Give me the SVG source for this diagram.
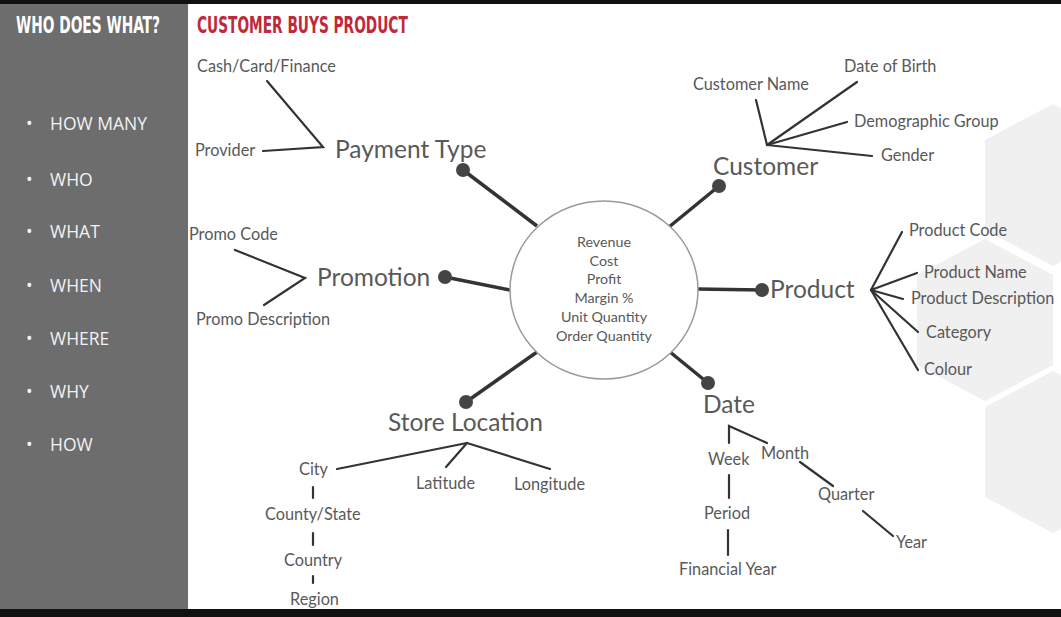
<svg xmlns="http://www.w3.org/2000/svg" width="1061" height="617" viewBox="0 0 1061 617">
<style>
.hex{fill:#f0f0f0}
.t{font-family:Lato,"Open Sans","Liberation Sans",sans-serif;fill:#595959}
.sub{font-size:16.3px}
.dim{font-size:24.5px}
.ctr{font-size:14.3px;text-anchor:middle}
.side{font-family:"Open Sans","Liberation Sans",sans-serif;font-size:17.5px;fill:#f2f2f2}
.head{font-family:"DejaVu Sans Condensed","DejaVu Sans","Liberation Sans",sans-serif;font-weight:bold;font-size:23px}
.ln{stroke:#333;stroke-width:2.2;fill:none;stroke-linecap:round}
.spoke{stroke:#333;stroke-width:3.5;fill:none}
.dot{fill:#444}
</style>
<rect x="0" y="0" width="1061" height="617" fill="#ffffff"/>
<g id="background">
<polygon class="hex" points="1053,104 1121,140 1121,230 1053,266 985,230 985,140"/>
<polygon class="hex" points="985,239 1053,275 1053,365 985,401 917,365 917,275"/>
<polygon class="hex" points="1053,371 1121,407 1121,497 1053,533 985,497 985,407"/>
<rect x="0" y="0" width="188" height="617" fill="#6d6d6d"/>
<rect x="0" y="0" width="1061" height="4" fill="#111"/>
<rect x="0" y="609" width="1061" height="8" fill="#111"/>
</g>
<g id="sidebar">
<text class="head" transform="translate(16,33) scale(0.75,1)" x="0" y="0" fill="#ffffff" textLength="192" lengthAdjust="spacingAndGlyphs">WHO DOES WHAT?</text>
<g class="side">
<text x="26" y="130">•</text><text x="50" y="130">HOW MANY</text>
<text x="26" y="186">•</text><text x="50" y="186">WHO</text>
<text x="26" y="238">•</text><text x="50" y="238">WHAT</text>
<text x="26" y="292">•</text><text x="50" y="292">WHEN</text>
<text x="26" y="345">•</text><text x="50" y="345">WHERE</text>
<text x="26" y="398">•</text><text x="50" y="398">WHY</text>
<text x="26" y="451">•</text><text x="50" y="451">HOW</text>
</g>
</g>
<text id="title" class="head" transform="translate(197,33) scale(0.75,1)" x="0" y="0" fill="#c0283c" textLength="281" lengthAdjust="spacingAndGlyphs">CUSTOMER BUYS PRODUCT</text>
<g id="connectors">
<line class="spoke" x1="463" y1="170" x2="537" y2="226"/>
<line class="spoke" x1="719" y1="186" x2="669" y2="227"/>
<line class="spoke" x1="445" y1="277" x2="510" y2="290"/>
<line class="spoke" x1="697" y1="289" x2="762" y2="290"/>
<line class="spoke" x1="466" y1="402" x2="537" y2="352"/>
<line class="spoke" x1="708" y1="383" x2="670" y2="352"/>
<polyline class="ln" points="267,81 323,147 263,151"/>
<polyline class="ln" points="235,250 305,278 264,305"/>
<line class="ln" x1="767" y1="145" x2="756" y2="100"/>
<line class="ln" x1="767" y1="145" x2="857" y2="82"/>
<line class="ln" x1="767" y1="145" x2="847" y2="122"/>
<line class="ln" x1="767" y1="145" x2="872" y2="156"/>
<line class="ln" x1="871" y1="290" x2="902" y2="232"/>
<line class="ln" x1="871" y1="290" x2="917" y2="273"/>
<line class="ln" x1="871" y1="290" x2="903" y2="299"/>
<line class="ln" x1="871" y1="290" x2="918" y2="332"/>
<line class="ln" x1="871" y1="290" x2="918" y2="370"/>
<line class="ln" x1="467" y1="443" x2="337" y2="469"/>
<line class="ln" x1="467" y1="443" x2="446" y2="467"/>
<line class="ln" x1="467" y1="443" x2="550" y2="469"/>
<line class="ln" x1="313" y1="487" x2="313" y2="498"/>
<line class="ln" x1="313" y1="533" x2="313" y2="545"/>
<line class="ln" x1="313" y1="576" x2="313" y2="583"/>
<polyline class="ln" points="729,443 729,426 767,443"/>
<line class="ln" x1="800" y1="462" x2="833" y2="486"/>
<line class="ln" x1="863" y1="511" x2="893" y2="536"/>
<line class="ln" x1="729" y1="475" x2="729" y2="498"/>
<line class="ln" x1="728" y1="530" x2="728" y2="555"/>
</g>
<g id="facts">
<ellipse cx="604" cy="290" rx="94" ry="89" fill="#ffffff" stroke="#9a9a9a" stroke-width="1.5"/>
<g class="t ctr">
<text x="604" y="247">Revenue</text>
<text x="604" y="266">Cost</text>
<text x="604" y="284">Profit</text>
<text x="604" y="303">Margin %</text>
<text x="604" y="322">Unit Quantity</text>
<text x="604" y="341">Order Quantity</text>
</g>
</g>
<g id="payment-type">
<circle class="dot" cx="463" cy="170" r="7"/>
<text class="t dim" x="335" y="158">Payment Type</text>
<text class="t sub" x="197" y="72">Cash/Card/Finance</text>
<text class="t sub" x="195" y="156">Provider</text>
</g>
<g id="customer">
<circle class="dot" cx="719" cy="186" r="7"/>
<text class="t dim" x="713" y="175">Customer</text>
<text class="t sub" x="693" y="90">Customer Name</text>
<text class="t sub" x="844" y="72">Date of Birth</text>
<text class="t sub" x="854" y="127">Demographic Group</text>
<text class="t sub" x="881" y="161">Gender</text>
</g>
<g id="promotion">
<circle class="dot" cx="445" cy="277" r="7"/>
<text class="t dim" x="317" y="286">Promotion</text>
<text class="t sub" x="189" y="240">Promo Code</text>
<text class="t sub" x="196" y="325">Promo Description</text>
</g>
<g id="product">
<circle class="dot" cx="762" cy="290" r="7"/>
<text class="t dim" x="770" y="298">Product</text>
<text class="t sub" x="909" y="236">Product Code</text>
<text class="t sub" x="924" y="278">Product Name</text>
<text class="t sub" x="911" y="304">Product Description</text>
<text class="t sub" x="926" y="338">Category</text>
<text class="t sub" x="924" y="375">Colour</text>
</g>
<g id="store-location">
<circle class="dot" cx="466" cy="402" r="7"/>
<text class="t dim" x="388" y="431">Store Location</text>
<text class="t sub" x="299" y="475">City</text>
<text class="t sub" x="416" y="489">Latitude</text>
<text class="t sub" x="514" y="490">Longitude</text>
<text class="t sub" x="265" y="520">County/State</text>
<text class="t sub" x="284" y="566">Country</text>
<text class="t sub" x="290" y="605">Region</text>
</g>
<g id="date">
<circle class="dot" cx="708" cy="383" r="7"/>
<text class="t dim" x="703" y="413">Date</text>
<text class="t sub" x="708" y="465">Week</text>
<text class="t sub" x="761" y="459">Month</text>
<text class="t sub" x="818" y="500">Quarter</text>
<text class="t sub" x="896" y="548">Year</text>
<text class="t sub" x="704" y="519">Period</text>
<text class="t sub" x="679" y="575">Financial Year</text>
</g>
</svg>
